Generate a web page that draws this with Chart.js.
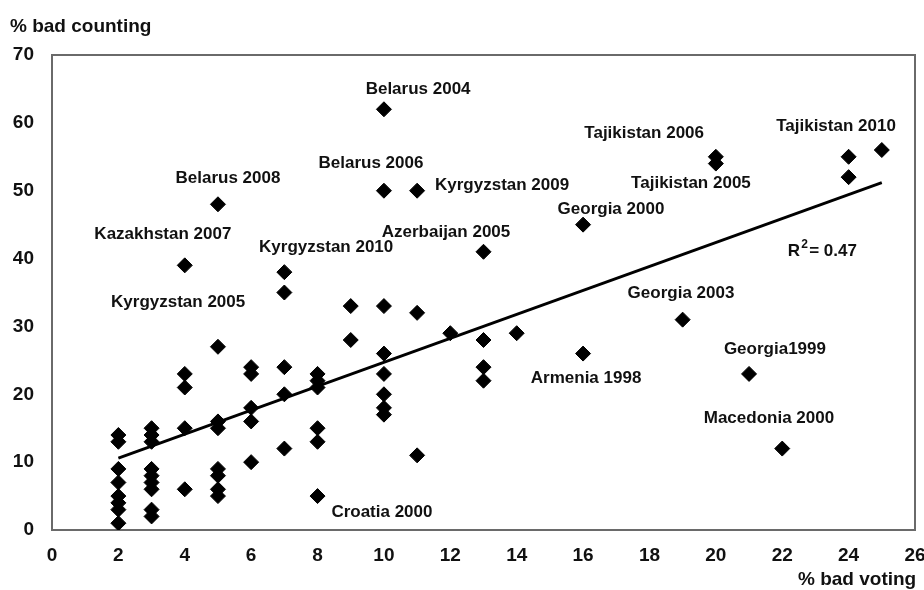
<!DOCTYPE html>
<html>
<head>
<meta charset="utf-8">
<script src="https://cdn.jsdelivr.net/npm/chart.js@4/dist/chart.umd.min.js"></script>
<style>
  html, body { margin: 0; padding: 0; background: #fff; }
  #wrap { width: 924px; height: 590px; }
</style>
</head>
<body>
<div id="wrap"><canvas id="grafico"></canvas></div>
<script>
// % bad voting (x) e % bad counting (y)
const voting = [
  2, 2, 2, 2, 2, 2, 2, 2,
  3, 3, 3, 3, 3, 3, 3, 3, 3,
  4, 4, 4, 4, 4,
  5, 5, 5, 5, 5, 5, 5, 5,
  6, 6, 6, 6, 6,
  7, 7, 7, 7, 7,
  8, 8, 8, 8, 8, 8,
  9, 9,
  10, 10, 10, 10, 10, 10, 10, 10,
  11, 11, 11,
  12,
  13, 13, 13, 13,
  14,
  16, 16,
  19,
  20, 20,
  21,
  22,
  24, 24,
  25
];
const counting = [
  14, 13, 9, 7, 5, 4, 3, 1,
  15, 14, 13, 9, 8, 7, 6, 3, 2,
  39, 23, 21, 15, 6,
  48, 27, 16, 15, 9, 8, 6, 5,
  24, 23, 18, 16, 10,
  38, 35, 24, 20, 12,
  23, 22, 21, 15, 13, 5,
  33, 28,
  62, 50, 33, 26, 23, 20, 18, 17,
  50, 32, 11,
  29,
  41, 28, 24, 22,
  29,
  45, 26,
  31,
  55, 54,
  23,
  12,
  55, 52,
  56
];

// retta di regressione
const trendX = [2, 25];
const trendY = [10.6, 51.2];

// etichette dei paesi (centro del testo, in unita' dei dati)
const nomi = [
  "Belarus 2004", "Belarus 2008", "Belarus 2006", "Kyrgyzstan 2009",
  "Tajikistan 2006", "Tajikistan 2010", "Tajikistan 2005", "Georgia 2000",
  "Kazakhstan 2007", "Kyrgyzstan 2010", "Azerbaijan 2005", "Kyrgyzstan 2005",
  "Georgia 2003", "Georgia1999", "Armenia 1998", "Macedonia 2000", "Croatia 2000"
];
const nomiX = [11.03, 5.30, 9.61, 13.56, 17.84, 23.62, 19.25, 16.84, 3.34, 8.26, 11.87, 3.80, 18.95, 21.78, 16.09, 21.60, 9.94];
const nomiY = [65.0, 51.9, 54.1, 50.8, 58.5, 59.5, 51.1, 47.2, 43.6, 41.7, 43.8, 33.6, 34.9, 26.7, 22.3, 16.4, 2.65];

const xTicks = [0, 2, 4, 6, 8, 10, 12, 14, 16, 18, 20, 22, 24, 26];
const yTicks = [0, 10, 20, 30, 40, 50, 60, 70];

const punti = voting.map((v, i) => ({ x: v, y: counting[i] }));
const linea = trendX.map((v, i) => ({ x: v, y: trendY[i] }));

const font = "'Liberation Sans', Arial, sans-serif";

const testi = {
  id: "testi",
  afterDatasetsDraw(chart) {
    const ctx = chart.ctx;
    const a = chart.chartArea;
    const sx = chart.scales.x, sy = chart.scales.y;
    ctx.save();
    // cornice sopra e a destra
    ctx.strokeStyle = "#6a6a6a";
    ctx.lineWidth = 2;
    ctx.beginPath();
    ctx.moveTo(a.left, a.top);
    ctx.lineTo(a.right, a.top);
    ctx.lineTo(a.right, a.bottom);
    ctx.stroke();

    ctx.fillStyle = "#111";
    ctx.textAlign = "center";
    ctx.textBaseline = "middle";
    ctx.font = "bold 17px " + font;
    nomi.forEach((t, i) => {
      ctx.fillText(t, sx.getPixelForValue(nomiX[i]), sy.getPixelForValue(nomiY[i]));
    });

    // R^2
    const rx = sx.getPixelForValue(22.17), ry = sy.getPixelForValue(41.0);
    ctx.textAlign = "left";
    ctx.fillText("R", rx, ry);
    const w = ctx.measureText("R").width;
    ctx.font = "bold 12px " + font;
    ctx.fillText("2", rx + w + 1, ry - 7);
    ctx.font = "bold 17px " + font;
    ctx.fillText("= 0.47", rx + w + 9, ry);

    // titoli assi
    ctx.font = "bold 19px " + font;
    ctx.textAlign = "left";
    ctx.fillText("% bad counting", 10, 27);
    ctx.fillText("% bad voting", 798, 580);
    ctx.restore();
  }
};

new Chart("grafico", {
  type: "scatter",
  data: {
    datasets: [
      {
        data: punti,
        pointStyle: "rectRot",
        pointRadius: 7.5,
        pointHoverRadius: 7.5,
        backgroundColor: "#000",
        borderColor: "#000",
        borderWidth: 1
      },
      {
        type: "line",
        data: linea,
        borderColor: "#000",
        borderWidth: 2.8,
        pointRadius: 0,
        fill: false
      }
    ]
  },
  options: {
    responsive: true,
    maintainAspectRatio: false,
    animation: false,
    layout: { padding: { top: 55, right: 9, bottom: 20, left: 0 } },
    plugins: { legend: { display: false }, tooltip: { enabled: false } },
    scales: {
      x: {
        type: "linear",
        min: 0,
        max: 26,
        afterBuildTicks(scale) { scale.ticks = xTicks.map(v => ({ value: v })); },
        afterFit(scale) {
          scale.height = 40;
          scale.paddingLeft = 0;
          scale.paddingRight = 0;
        },
        grid: { display: false, drawTicks: true, tickLength: 7, tickColor: "#6a6a6a", tickWidth: 2 },
        border: { display: true, color: "#6a6a6a", width: 2 },
        ticks: { color: "#111", font: { family: font, size: 19, weight: "bold" }, padding: 7, maxRotation: 0 }
      },
      y: {
        type: "linear",
        min: 0,
        max: 70,
        afterBuildTicks(scale) { scale.ticks = yTicks.map(v => ({ value: v })); },
        afterFit(scale) {
          scale.width = 52;
          scale.paddingTop = 0;
          scale.paddingBottom = 0;
        },
        grid: { display: false, drawTicks: true, tickLength: 8, tickColor: "#6a6a6a", tickWidth: 2 },
        border: { display: true, color: "#6a6a6a", width: 2 },
        ticks: { color: "#111", font: { family: font, size: 19, weight: "bold" }, padding: 10 }
      }
    }
  },
  plugins: [testi]
});
</script>
</body>
</html>
